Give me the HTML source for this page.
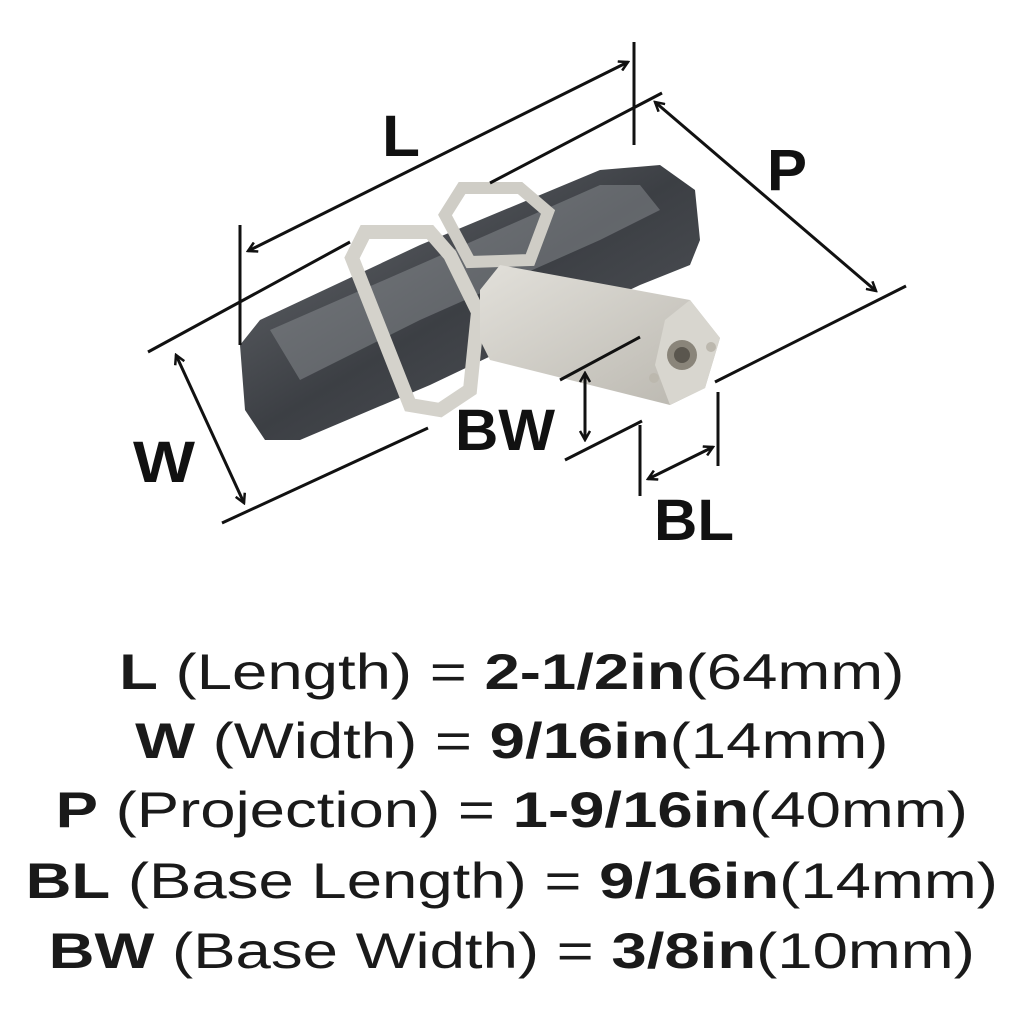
<!DOCTYPE html>
<html><head><meta charset="utf-8"><style>
html,body{margin:0;padding:0;background:#fff;}
body{width:1024px;height:1024px;position:relative;overflow:hidden;font-family:"Liberation Sans",sans-serif;color:#1a1a1a;}
.t{position:absolute;left:0;width:1024px;text-align:center;font-size:50px;line-height:60px;white-space:nowrap;transform:scaleX(1.27);transform-origin:513px 0;}
.t b{font-weight:bold;}
</style></head><body>
<svg width="1024" height="620" style="position:absolute;left:0;top:0">
<defs>
<linearGradient id="dk" x1="0" y1="0" x2="1" y2="1"><stop offset="0" stop-color="#6a6d72"/><stop offset="0.5" stop-color="#3c3f44"/><stop offset="1" stop-color="#55585d"/></linearGradient>
<linearGradient id="st" x1="0" y1="0" x2="1" y2="1"><stop offset="0" stop-color="#e2e0da"/><stop offset="1" stop-color="#b9b6ae"/></linearGradient>
<marker id="a" markerWidth="12" markerHeight="12" refX="10" refY="6" orient="auto-start-reverse" markerUnits="userSpaceOnUse"><path d="M1,1 L10,6 L1,11" fill="none" stroke="#111" stroke-width="2.5"/></marker>
</defs>
<polygon points="240,345 260,320 420,245 600,170 660,165 695,190 700,240 690,265 640,285 430,385 300,440 265,440 245,410" fill="url(#dk)"/>
<polygon points="270,330 430,260 600,185 640,185 660,210 600,240 420,320 300,380" fill="#8a8d92" opacity="0.5"/>
<polygon points="445,215 462,188 520,188 548,212 530,260 470,262" fill="none" stroke="#cfcdc6" stroke-width="12"/>
<polygon points="352,258 365,232 430,232 450,255 478,312 470,390 440,410 410,405" fill="none" stroke="#d4d2cb" stroke-width="14"/>
<polygon points="480,290 500,265 690,300 720,338 705,388 670,405 490,360 480,340" fill="url(#st)"/>
<polygon points="690,300 720,338 705,388 670,405 655,365 665,320" fill="#d8d6cf"/>
<circle cx="682" cy="355" r="15" fill="#8a857a"/>
<circle cx="682" cy="355" r="8" fill="#5a564e"/>
<circle cx="711" cy="347" r="5" fill="#bcb8ae"/>
<circle cx="654" cy="378" r="5" fill="#bcb8ae"/>
<g stroke="#111" stroke-width="3" fill="none">
<line x1="248" y1="251" x2="628" y2="62" marker-start="url(#a)" marker-end="url(#a)"/>
<line x1="634" y1="42" x2="634" y2="145"/>
<line x1="240" y1="225" x2="240" y2="345"/>
<line x1="490" y1="183" x2="662" y2="93"/>
<line x1="655" y1="102" x2="876" y2="291" marker-start="url(#a)" marker-end="url(#a)"/>
<line x1="715" y1="382" x2="906" y2="286"/>
<line x1="148" y1="352" x2="350" y2="242"/>
<line x1="176" y1="355" x2="244" y2="503" marker-start="url(#a)" marker-end="url(#a)"/>
<line x1="222" y1="523" x2="428" y2="428"/>
<line x1="560" y1="380" x2="640" y2="337"/>
<line x1="585" y1="373" x2="585" y2="440" marker-start="url(#a)" marker-end="url(#a)"/>
<line x1="565" y1="460" x2="642" y2="421"/>
<line x1="640" y1="425" x2="640" y2="496"/>
<line x1="718" y1="392" x2="718" y2="466"/>
<line x1="648" y1="479" x2="713" y2="447" marker-start="url(#a)" marker-end="url(#a)"/>
</g>
<g font-family="Liberation Sans,sans-serif" font-weight="bold" font-size="58" fill="#111">
<text x="382" y="156" textLength="38" lengthAdjust="spacingAndGlyphs">L</text>
<text x="767" y="190" textLength="40" lengthAdjust="spacingAndGlyphs">P</text>
<text x="133" y="482" textLength="62" lengthAdjust="spacingAndGlyphs">W</text>
<text x="455" y="450" textLength="100" lengthAdjust="spacingAndGlyphs">BW</text>
<text x="654" y="540" textLength="80" lengthAdjust="spacingAndGlyphs">BL</text>
</g>
</svg>
<div class="t" style="top:642px"><b>L</b> (Length) = <b>2-1/2in</b>(64mm)</div>
<div class="t" style="top:711px"><b>W</b> (Width) = <b>9/16in</b>(14mm)</div>
<div class="t" style="top:780px"><b>P</b> (Projection) = <b>1-9/16in</b>(40mm)</div>
<div class="t" style="top:851px"><b>BL</b> (Base Length) = <b>9/16in</b>(14mm)</div>
<div class="t" style="top:921px"><b>BW</b> (Base Width) = <b>3/8in</b>(10mm)</div>
</body></html>
